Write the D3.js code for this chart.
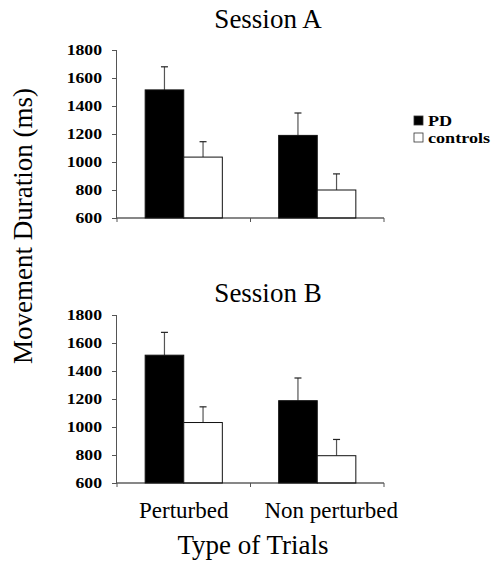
<!DOCTYPE html>
<html>
<head>
<meta charset="utf-8">
<script src="https://cdn.jsdelivr.net/npm/d3@7"></script>
<style>
  body { margin: 0; background: #fff; }
  svg text { font-family: "Liberation Serif", "Times New Roman", Times, serif; fill: #000; }
</style>
</head>
<body>
<div id="chart"></div>
<script>

var categories = ['Perturbed', 'Non perturbed'];
var groups = ['PD', 'controls'];
var sessions = ['Session A', 'Session B'];

// mean movement duration (ms) and error bar length
var sessionA_PD = [1515, 1190];
var sessionA_controls = [1035, 800];
var sessionA_PD_err = [165, 160];
var sessionA_controls_err = [110, 115];

var sessionB_PD = [1513, 1188];
var sessionB_controls = [1032, 795];
var sessionB_PD_err = [163, 162];
var sessionB_controls_err = [112, 116];

var yTicks = [600, 800, 1000, 1200, 1400, 1600, 1800];

var width = 499;
var height = 567;
var left = 117;
var right = 384;
var panels = [
  { title: sessions[0], top: 50, bottom: 218, titleY: 28,
    pd: sessionA_PD, ct: sessionA_controls, pdErr: sessionA_PD_err, ctErr: sessionA_controls_err },
  { title: sessions[1], top: 315, bottom: 483, titleY: 302,
    pd: sessionB_PD, ct: sessionB_controls, pdErr: sessionB_PD_err, ctErr: sessionB_controls_err }
];
var fills = { 'PD': '#000', 'controls': '#fff' };
var axisColor = '#555';

var svg = d3.select('#chart').append('svg')
    .attr('width', width)
    .attr('height', height)
    .attr('font-family', '"Liberation Serif", serif');

var x0 = d3.scaleBand()
    .domain(categories)
    .range([left, right]);

var x1 = d3.scaleBand()
    .domain(groups)
    .range([0, x0.bandwidth()])
    .paddingOuter(0.73);

panels.forEach(function(p) {
   var y = d3.scaleLinear()
       .domain([600, 1800])
       .range([p.bottom, p.top]);

   var g = svg.append('g');

   g.append('text')
       .attr('x', 268)
       .attr('y', p.titleY)
       .attr('text-anchor', 'middle')
       .attr('font-size', 27)
       .text(p.title);

   // y axis
   var yAxis = g.append('g')
       .attr('transform', 'translate(' + left + ',0)')
       .call(d3.axisLeft(y).tickValues(yTicks).tickSize(5).tickPadding(10).tickFormat(d3.format('d')));
   yAxis.attr('font-family', null);
   yAxis.select('.domain').attr('stroke', axisColor).attr('d', 'M-0.5,' + p.top + 'V' + p.bottom);
   yAxis.selectAll('.tick line').attr('stroke', axisColor);
   yAxis.selectAll('.tick text')
       .attr('font-size', 15)
       .attr('font-weight', 'bold')
       .attr('transform', 'scale(1.18,1)')
       .attr('x', -15 / 1.18);

   // bars
   var rows = categories.map(function(c, i) {
      return [
        { cat: c, grp: 'PD', v: p.pd[i], e: p.pdErr[i] },
        { cat: c, grp: 'controls', v: p.ct[i], e: p.ctErr[i] }
      ];
   });
   var flat = [].concat.apply([], rows);

   g.selectAll('line.err')
       .data(flat)
       .enter().append('line')
       .attr('class', 'err')
       .attr('x1', function(d){ return x0(d.cat) + x1(d.grp) + x1.bandwidth() / 2; })
       .attr('x2', function(d){ return x0(d.cat) + x1(d.grp) + x1.bandwidth() / 2; })
       .attr('y1', function(d){ return y(d.v); })
       .attr('y2', function(d){ return y(d.v + d.e); })
       .attr('stroke', axisColor)
       .attr('stroke-width', 1.2);

   g.selectAll('line.cap')
       .data(flat)
       .enter().append('line')
       .attr('class', 'cap')
       .attr('x1', function(d){ return x0(d.cat) + x1(d.grp) + x1.bandwidth() / 2 - 3.5; })
       .attr('x2', function(d){ return x0(d.cat) + x1(d.grp) + x1.bandwidth() / 2 + 3.5; })
       .attr('y1', function(d){ return y(d.v + d.e); })
       .attr('y2', function(d){ return y(d.v + d.e); })
       .attr('stroke', '#222')
       .attr('stroke-width', 1.2);

   g.selectAll('rect.bar')
       .data(flat)
       .enter().append('rect')
       .attr('class', 'bar')
       .attr('x', function(d){ return x0(d.cat) + x1(d.grp); })
       .attr('y', function(d){ return y(d.v); })
       .attr('width', x1.bandwidth())
       .attr('height', function(d){ return y(600) - y(d.v); })
       .attr('fill', function(d){ return fills[d.grp]; })
       .attr('stroke', '#111')
       .attr('stroke-width', 1);

   // x axis with ticks at category boundaries
   var xAxis = g.append('g')
       .attr('transform', 'translate(0,' + p.bottom + ')');
   xAxis.append('line')
       .attr('x1', left).attr('x2', right)
       .attr('stroke', '#111').attr('stroke-width', 1.2);
   xAxis.selectAll('line.tk')
       .data([left, x0(categories[1]), right])
       .enter().append('line')
       .attr('class', 'tk')
       .attr('x1', function(d){ return d; }).attr('x2', function(d){ return d; })
       .attr('y1', 0).attr('y2', 4)
       .attr('stroke', axisColor);
});

// category labels under the bottom panel
svg.selectAll('text.cat')
    .data(categories)
    .enter().append('text')
    .attr('class', 'cat')
    .attr('x', function(d, i){ return x0(d) + x0.bandwidth() / 2 + i * 14; })
    .attr('y', 518)
    .attr('text-anchor', 'middle')
    .attr('font-size', 23)
    .text(function(d){ return d; });

svg.append('text')
    .attr('x', 253)
    .attr('y', 554)
    .attr('text-anchor', 'middle')
    .attr('font-size', 27)
    .text('Type of Trials');

svg.append('text')
    .attr('transform', 'translate(32,226) rotate(-90)')
    .attr('text-anchor', 'middle')
    .attr('font-size', 27)
    .text('Movement Duration (ms)');

// legend
var legend = svg.selectAll('g.legend')
    .data(groups)
    .enter().append('g')
    .attr('class', 'legend')
    .attr('transform', function(d, i){ return 'translate(414,' + (116 + i * 17) + ')'; });

legend.append('rect')
    .attr('width', 9)
    .attr('height', 9)
    .attr('fill', function(d){ return fills[d]; })
    .attr('stroke', '#333')
    .attr('stroke-width', 0.8);

legend.append('text')
    .attr('transform', 'translate(14,9.5) scale(1.25,1)')
    .attr('font-size', 14.5)
    .attr('font-weight', 'bold')
    .text(function(d){ return d; });

</script>
</body>
</html>
